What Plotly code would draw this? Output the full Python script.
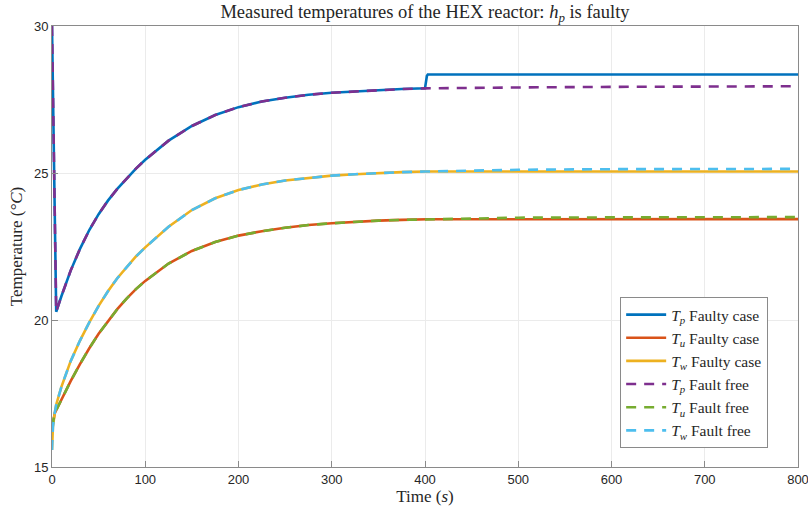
import plotly.graph_objects as go

# ---- data ----
t_pre = [0, 1, 3, 4.5, 10, 15, 20, 30, 40, 50, 60, 70, 80, 90, 100, 125, 150, 175, 200,
         225, 250, 275, 300, 325, 350, 375, 400]

tp_pre = [30.0, 27.9, 23.4, 20.28, 20.8, 21.25, 21.68, 22.42, 23.06, 23.6, 24.06, 24.46, 24.82,
          25.15, 25.45, 26.1, 26.6, 26.97, 27.24, 27.43, 27.56, 27.66, 27.73, 27.78, 27.82,
          27.855, 27.88]
tw_pre = [15.58, 16.37, 16.85, 17.12, 17.72, 18.17, 18.6, 19.3, 19.92, 20.48, 20.98, 21.42, 21.81,
          22.16, 22.47, 23.17, 23.74, 24.14, 24.42, 24.61, 24.745, 24.84, 24.91, 24.96, 25.0,
          25.03, 25.05]
tu_pre = [16.35, 16.54, 16.83, 16.93, 17.3, 17.62, 17.92, 18.5, 19.04, 19.53, 19.97, 20.37,
          20.73, 21.05, 21.33, 21.92, 22.35, 22.65, 22.87, 23.02, 23.14, 23.23, 23.29, 23.34,
          23.38, 23.405, 23.425]

# faulty case after the fault at t = 400 s
t_post_faulty = [401, 402, 403, 800]
tp_post_faulty = [28.1, 28.3, 28.35, 28.35]
tu_post_faulty = [23.425, 23.425, 23.425, 23.43]
tw_post_faulty = [25.05, 25.05, 25.05, 25.05]

# fault-free case after t = 400 s
t_post_free = [450, 500, 600, 700, 800]
tp_post_free = [27.9, 27.91, 27.93, 27.94, 27.95]
tu_post_free = [23.46, 23.48, 23.49, 23.5, 23.5]
tw_post_free = [25.09, 25.11, 25.13, 25.14, 25.14]

x_ticks = [0, 100, 200, 300, 400, 500, 600, 700, 800]
y_ticks = [15, 20, 25, 30]

colors = {
    "tp_f": "#0072BD", "tu_f": "#D95319", "tw_f": "#EDB120",
    "tp_n": "#7E2F8E", "tu_n": "#77AC30", "tw_n": "#4DBEEE",
}

SERIF = "Liberation Serif, Times New Roman, serif"
SANS = "Liberation Sans, Arial, Helvetica, sans-serif"

fig = go.Figure()

faulty = [
    ("<i>T<sub>p</sub></i> Faulty case", tp_pre, tp_post_faulty, "tp_f"),
    ("<i>T<sub>u</sub></i> Faulty case", tu_pre, tu_post_faulty, "tu_f"),
    ("<i>T<sub>w</sub></i> Faulty case", tw_pre, tw_post_faulty, "tw_f"),
]
for name, pre, post, key in faulty:
    fig.add_trace(go.Scatter(
        x=t_pre + t_post_faulty, y=pre + post, mode="lines", name=name,
        line=dict(color=colors[key], width=2.6),
    ))

free = [
    ("<i>T<sub>p</sub></i> Fault free", tp_pre, tp_post_free, "tp_n"),
    ("<i>T<sub>u</sub></i> Fault free", tu_pre, tu_post_free, "tu_n"),
    ("<i>T<sub>w</sub></i> Fault free", tw_pre, tw_post_free, "tw_n"),
]
for name, pre, post, key in free:
    fig.add_trace(go.Scatter(
        x=t_pre + t_post_free, y=pre + post, mode="lines", name=name,
        line=dict(color=colors[key], width=2.6, dash="10px,8px"),
    ))

axis_common = dict(
    showline=True, linecolor="#8a8a8a", linewidth=1, mirror=True,
    showgrid=True, gridcolor="#ebebeb", gridwidth=1,
    ticks="inside", ticklen=6, tickcolor="#8a8a8a",
    tickfont=dict(family=SANS, size=13, color="#262626"),
    zeroline=False, ticklabeloverflow="allow", automargin=False,
)

fig.update_layout(
    width=808, height=514,
    margin=dict(l=52, r=10, t=26, b=47),
    paper_bgcolor="white", plot_bgcolor="white",
    title=dict(
        text="Measured temperatures of the HEX reactor: <i>h<sub>p</sub></i> is faulty",
        x=(52 + 798) / 2 / 808, xanchor="center", y=0.978, yanchor="middle",
        font=dict(family=SERIF, size=18.5, color="#262626"),
    ),
    xaxis=dict(
        range=[0, 800], tickvals=x_ticks, ticktext=[str(v) for v in x_ticks],
        title=dict(text="Time (<i>s</i>)", font=dict(family=SERIF, size=17, color="#262626"),
                   standoff=4),
        **axis_common,
    ),
    yaxis=dict(
        range=[15, 30], tickvals=y_ticks, ticktext=[str(v) for v in y_ticks],
        title=dict(text="Temperature (<i>°C</i>)", font=dict(family=SERIF, size=17, color="#262626"),
                   standoff=6),
        **axis_common,
    ),
    legend=dict(
        x=0.96, y=0.043, xanchor="right", yanchor="bottom",
        bgcolor="white", bordercolor="#8a8a8a", borderwidth=1,
        font=dict(family=SERIF, size=15.5, color="#262626"),
        tracegroupgap=0, itemwidth=40,
    ),
    showlegend=True,
)

fig.write_html("out.html")
